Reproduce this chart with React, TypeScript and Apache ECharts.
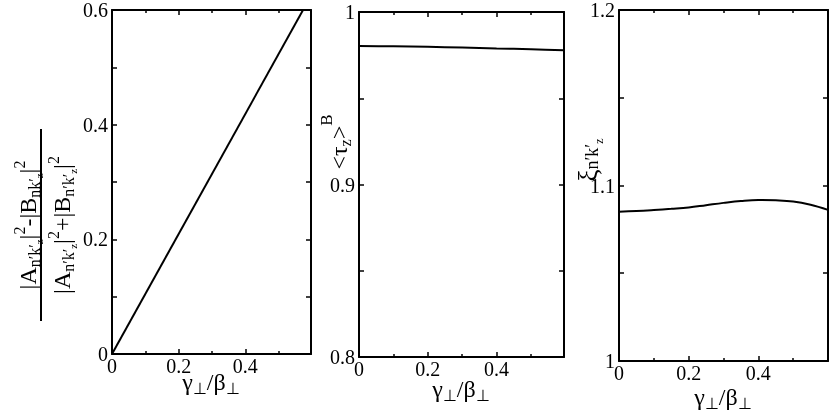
import React, { useEffect, useRef } from 'react';
import * as echarts from 'echarts';

// ---- data ----
const xMax = [0.597, 0.596, 0.6];
const yMin = [0, 0.8, 1.0];
const yMax = [0.6, 1.0, 1.2];
const yInterval = [0.2, 0.1, 0.1];

const x1 = [0, 0.597];
const y1 = [0, 0.625];

const x2 = [0, 0.1, 0.2, 0.3, 0.4, 0.5, 0.596];
const y2 = [0.9803, 0.9801, 0.9798, 0.9794, 0.9789, 0.9784, 0.9778];

const x3 = [0, 0.05, 0.1, 0.15, 0.2, 0.25, 0.3, 0.35, 0.4, 0.45, 0.5, 0.55, 0.6];
const y3 = [1.085, 1.0854, 1.086, 1.0867, 1.0875, 1.0888, 1.0901, 1.0912, 1.0918, 1.0916, 1.0909, 1.089, 1.0861];

const FONT = 'Liberation Serif';

const grids = [
  { left: 112, top: 10, width: 199, height: 344 },
  { left: 359, top: 12, width: 205, height: 345 },
  { left: 619, top: 9, width: 209, height: 352 },
];

function makeRich() {
  return {
    m: { fontSize: 24, fontFamily: FONT, fill: '#000' },
    s: { fontSize: 16, fontFamily: FONT, fill: '#000', padding: [12, 0, 0, 0] },
    ss: { fontSize: 11, fontFamily: FONT, fill: '#000', padding: [22, 0, 0, 0] },
    p: { fontSize: 16, fontFamily: FONT, fill: '#000', padding: [0, 0, 18, 0] },
    P: { fontSize: 17, fontFamily: FONT, fill: '#000', padding: [0, 0, 26, 0] },
    X: { fontSize: 27, fontFamily: FONT, fill: '#000' },
    S: { fontSize: 18, fontFamily: FONT, fill: '#000', padding: [8, 0, 0, 0] },
    SS: { fontSize: 12, fontFamily: FONT, fill: '#000', padding: [22, 0, 0, 0] },
  };
}

const xTitle = '{m|γ}{s|⊥}{m|/β}{s|⊥}';
const numer = '{m||A}{s|n′k′}{ss|z}{m||}{p|2}{m|-|B}{s|nk′}{ss|z}{m||}{p|2}';
const denom = '{m||A}{s|n′k′}{ss|z}{m||}{p|2}{m|+|B}{s|n′k′}{ss|z}{m||}{p|2}';
const tauTitle = '{m|<τ}{s|z}{m|>}{P|B}';
const xiTitle = '{X|ξ}{S|n′k′}{SS|z}';

const lineBase = { color: '#000', width: 2 };

const fmt = (v: number) => (Math.abs(v) < 1e-9 ? '0' : String(+v.toFixed(2)));

function makeX(i: number, top: boolean) {
  return {
    type: 'value',
    gridIndex: i,
    position: top ? 'top' : 'bottom',
    min: 0,
    max: xMax[i],
    interval: 0.2,
    axisLine: { show: true, onZero: false, lineStyle: lineBase },
    axisTick: { show: true, inside: true, length: 5, lineStyle: { color: '#000', width: 1.5 } },
    minorTick: { show: true, splitNumber: 2, length: 3, lineStyle: { color: '#000', width: 1.5 } },
    splitLine: { show: false },
    minorSplitLine: { show: false },
    axisLabel: top
      ? { show: false }
      : { show: true, showMaxLabel: false, margin: 2, color: '#000', fontSize: 20, fontFamily: FONT, formatter: fmt },
  };
}

function makeY(i: number, right: boolean) {
  return {
    type: 'value',
    gridIndex: i,
    position: right ? 'right' : 'left',
    min: yMin[i],
    max: yMax[i],
    interval: yInterval[i],
    axisLine: { show: true, onZero: false, lineStyle: lineBase },
    axisTick: { show: true, inside: true, length: 5, lineStyle: { color: '#000', width: 1.5 } },
    minorTick: { show: true, splitNumber: 2, length: 5, lineStyle: { color: '#000', width: 1.5 } },
    splitLine: { show: false },
    minorSplitLine: { show: false },
    axisLabel: right
      ? { show: false }
      : { show: true, margin: 4, color: '#000', fontSize: 20, fontFamily: FONT, formatter: fmt },
  };
}

function pairs(xs: number[], ys: number[]) {
  return xs.map((x, k) => [x, ys[k]]);
}

function textEl(x: number, y: number, text: string, extra: any = {}) {
  return {
    type: 'text',
    x,
    y,
    ...extra,
    style: { text, rich: makeRich(), align: 'center', verticalAlign: 'middle', fill: '#000', fontFamily: FONT, fontSize: 24 },
  };
}

export default function App() {
  const ref = useRef<HTMLDivElement>(null);
  useEffect(() => {
    if (!ref.current) return;
    const chart = echarts.init(ref.current, undefined, { renderer: 'svg' });
    const option: any = {
      animation: false,
      grid: grids,
      xAxis: [makeX(0, false), makeX(0, true), makeX(1, false), makeX(1, true), makeX(2, false), makeX(2, true)],
      yAxis: [makeY(0, false), makeY(0, true), makeY(1, false), makeY(1, true), makeY(2, false), makeY(2, true)],
      series: [
        { type: 'line', xAxisIndex: 0, yAxisIndex: 0, data: pairs(x1, y1), showSymbol: false, symbol: 'none', lineStyle: lineBase, clip: true },
        { type: 'line', xAxisIndex: 2, yAxisIndex: 2, data: pairs(x2, y2), showSymbol: false, symbol: 'none', smooth: 0.3, lineStyle: lineBase, clip: true },
        { type: 'line', xAxisIndex: 4, yAxisIndex: 4, data: pairs(x3, y3), showSymbol: false, symbol: 'none', smooth: 0.4, lineStyle: lineBase, clip: true },
      ],
      graphic: [
        textEl(211, 382, xTitle),
        textEl(461, 389, xTitle),
        textEl(723, 397, xTitle),
        {
          type: 'group',
          x: 41,
          y: 225,
          rotation: Math.PI / 2,
          children: [
            textEl(0, -13, numer),
            { type: 'line', shape: { x1: -96, y1: 0, x2: 96, y2: 0 }, style: { stroke: '#000', lineWidth: 2 } },
            textEl(0, 21, denom),
          ],
        },
        textEl(339, 142, tauTitle, { rotation: Math.PI / 2 }),
        textEl(588, 160, xiTitle, { rotation: Math.PI / 2 }),
      ],
    };
    chart.setOption(option);
    return () => chart.dispose();
  }, []);
  return <div ref={ref} style={{ position: 'fixed', left: 0, top: 0, width: 830, height: 414 }} />;
}
